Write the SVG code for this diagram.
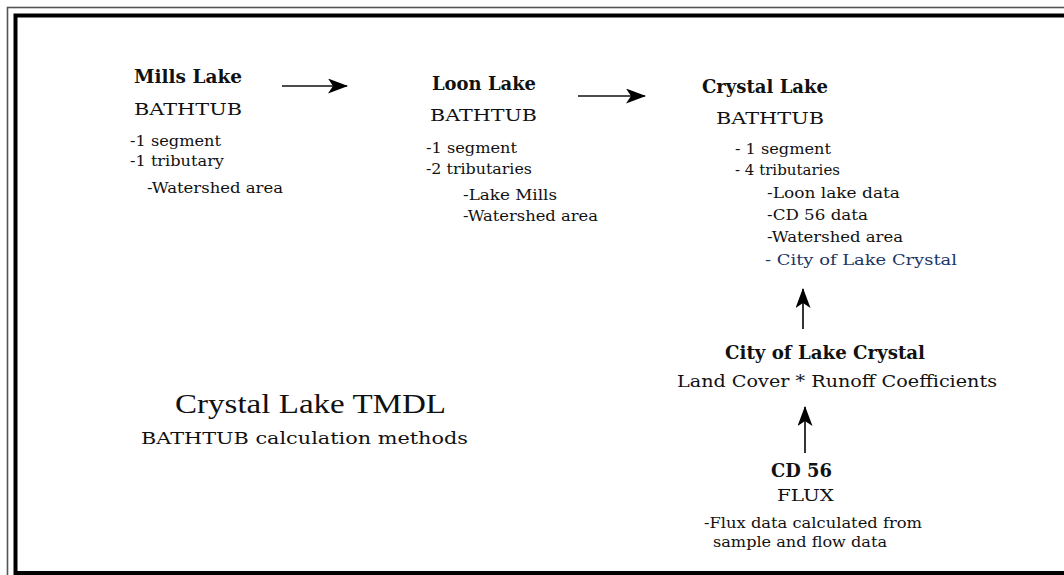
<svg xmlns="http://www.w3.org/2000/svg" width="1064" height="575" viewBox="0 0 1064 575">
<style>
text{font-family:"DejaVu Serif","Liberation Serif",serif;fill:#111;}
.t{font-weight:bold;font-size:18px;}
.m{font-size:17px;}
.s{font-size:14px;}
.blue{fill:#1c3566;}
.conn{stroke:#111;stroke-width:1.7;fill:none;}
</style>
<defs>
<marker id="ah" viewBox="0 0 20 15" markerWidth="20" markerHeight="15" refX="19" refY="7.5" orient="auto" markerUnits="userSpaceOnUse">
<path d="M0,0 L20,7.5 L0,15 L5,7.5 z" fill="#000"/>
</marker>
</defs>
<rect width="1064" height="575" fill="#fff"/>
<rect x="7.5" y="7.5" width="1100" height="600" fill="none" stroke="#555" stroke-width="1.6"/>
<rect x="15.5" y="15.5" width="1100" height="557.5" fill="none" stroke="#000" stroke-width="4"/>

<g id="mills-lake">
<text class="t" x="134" y="83" textLength="108" lengthAdjust="spacingAndGlyphs">Mills Lake</text>
<text class="m" x="134" y="115" textLength="108" lengthAdjust="spacingAndGlyphs">BATHTUB</text>
<text class="s" x="130" y="146" textLength="91" lengthAdjust="spacingAndGlyphs">-1 segment</text>
<text class="s" x="130" y="166" textLength="94" lengthAdjust="spacingAndGlyphs">-1 tributary</text>
<text class="s" x="147" y="193" textLength="136" lengthAdjust="spacingAndGlyphs">-Watershed area</text>
</g>

<g id="loon-lake">
<text class="t" x="432" y="90" textLength="104" lengthAdjust="spacingAndGlyphs">Loon Lake</text>
<text class="m" x="430" y="121" textLength="107" lengthAdjust="spacingAndGlyphs">BATHTUB</text>
<text class="s" x="426" y="153" textLength="91" lengthAdjust="spacingAndGlyphs">-1 segment</text>
<text class="s" x="426" y="174" textLength="106" lengthAdjust="spacingAndGlyphs">-2 tributaries</text>
<text class="s" x="463" y="200" textLength="94" lengthAdjust="spacingAndGlyphs">-Lake Mills</text>
<text class="s" x="463" y="221" textLength="135" lengthAdjust="spacingAndGlyphs">-Watershed area</text>
</g>

<g id="crystal-lake">
<text class="t" x="702" y="93" textLength="126" lengthAdjust="spacingAndGlyphs">Crystal Lake</text>
<text class="m" x="716" y="124" textLength="108" lengthAdjust="spacingAndGlyphs">BATHTUB</text>
<text class="s" x="735" y="154" textLength="96" lengthAdjust="spacingAndGlyphs">- 1 segment</text>
<text class="s" x="735" y="175" textLength="105" lengthAdjust="spacingAndGlyphs">- 4 tributaries</text>
<text class="s" x="767" y="198" textLength="133" lengthAdjust="spacingAndGlyphs">-Loon lake data</text>
<text class="s" x="767" y="220" textLength="101" lengthAdjust="spacingAndGlyphs">-CD 56 data</text>
<text class="s" x="767" y="242" textLength="136" lengthAdjust="spacingAndGlyphs">-Watershed area</text>
<text class="s blue" x="765" y="265" textLength="192" lengthAdjust="spacingAndGlyphs" style="font-size:15.5px">- City of Lake Crystal</text>
</g>

<g id="city-of-lake-crystal">
<text class="t" x="725" y="359" textLength="200" lengthAdjust="spacingAndGlyphs">City of Lake Crystal</text>
<text class="m" x="677" y="387" textLength="320" lengthAdjust="spacingAndGlyphs">Land Cover * Runoff Coefficients</text>
</g>

<g id="cd-56">
<text class="t" x="771" y="477" textLength="61" lengthAdjust="spacingAndGlyphs">CD 56</text>
<text class="m" x="777" y="501" textLength="57" lengthAdjust="spacingAndGlyphs">FLUX</text>
<text class="s" x="704" y="528" textLength="218" lengthAdjust="spacingAndGlyphs">-Flux data calculated from</text>
<text class="s" x="713" y="547" textLength="174" lengthAdjust="spacingAndGlyphs">sample and flow data</text>
</g>

<g id="title">
<text x="175" y="413" style="font-family:'Liberation Serif',serif;font-size:27px" textLength="271" lengthAdjust="spacingAndGlyphs">Crystal Lake TMDL</text>
<text class="m" x="141" y="444" textLength="327" lengthAdjust="spacingAndGlyphs">BATHTUB calculation methods</text>
</g>

<g id="connectors">
<line class="conn" x1="282" y1="86" x2="347" y2="86" marker-end="url(#ah)"/>
<line class="conn" x1="578" y1="96" x2="645" y2="96" marker-end="url(#ah)"/>
<line class="conn" x1="803" y1="329" x2="803" y2="289" marker-end="url(#ah)"/>
<line class="conn" x1="805" y1="453" x2="805" y2="407" marker-end="url(#ah)"/>
</g>
</svg>
